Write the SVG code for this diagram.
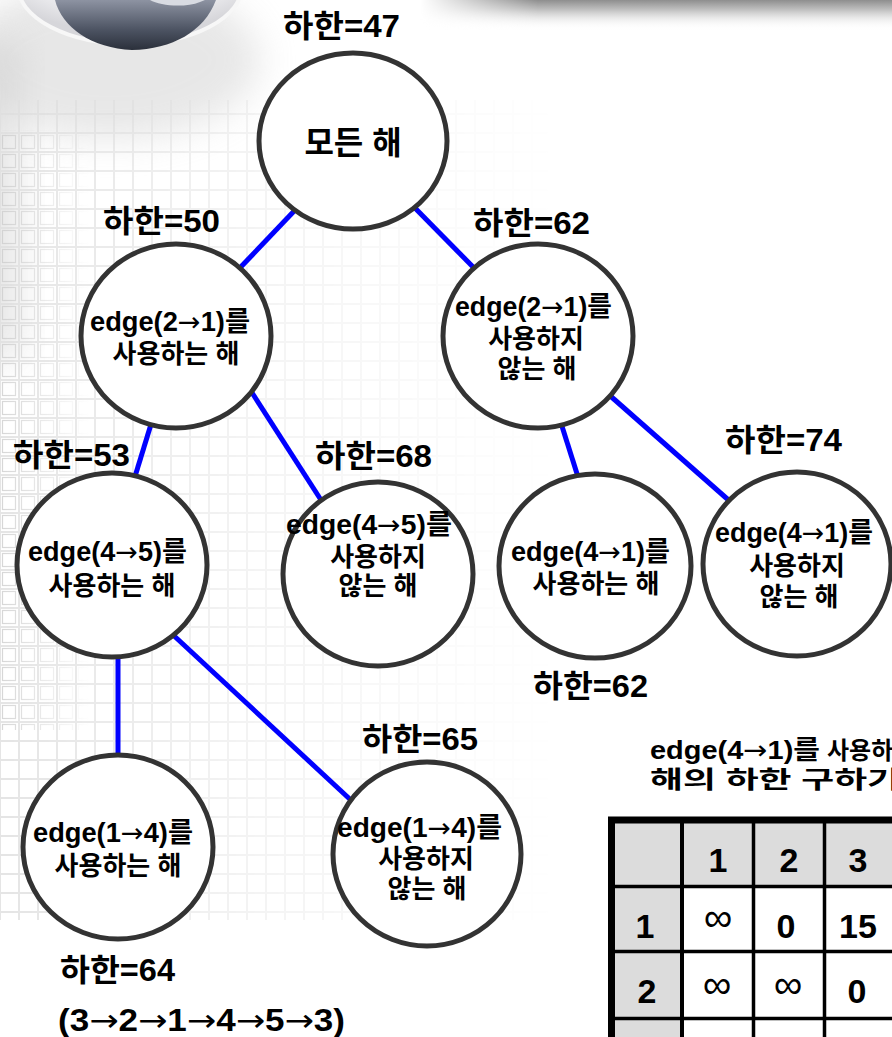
<svg xmlns="http://www.w3.org/2000/svg" width="892" height="1037" viewBox="0 0 892 1037">
  <style>
    .node ellipse { fill: #ffffff; stroke: #333333; stroke-width: 5; }
    .edge { stroke: #0000ff; stroke-width: 5; fill: none; }
    .t { font-family: "Liberation Sans", "Noto Sans CJK KR", sans-serif; font-weight: bold; fill: #000000; }
    .lbl { font-size: 31px; }
    .nt { font-size: 26px; }
    .ne { font-size: 27px; }
    .mid { text-anchor: middle; }
    .ar { font-family: "DejaVu Sans", sans-serif; font-weight: normal; }
    .cell { font-family: "Liberation Sans", sans-serif; font-weight: bold; font-size: 34px; text-anchor: middle; fill: #000000; }
    .inf { font-family: "Liberation Sans", sans-serif; font-weight: normal; font-size: 40px; text-anchor: middle; fill: #000000; }
  </style>
  <defs>
    <pattern id="gridCells" width="19" height="19" patternUnits="userSpaceOnUse">
      <rect x="0.5" y="0.5" width="18" height="18" fill="none" stroke="#dedede" stroke-width="1"/>
    </pattern>
    <pattern id="boxCells" width="19" height="19" patternUnits="userSpaceOnUse">
      <rect x="2.5" y="2.5" width="13" height="13" fill="none" stroke="#cccccc" stroke-width="1.2"/>
    </pattern>
    <linearGradient id="fadeRight" x1="0" y1="0" x2="1" y2="0">
      <stop offset="0" stop-color="#ffffff" stop-opacity="0.8"/>
      <stop offset="0.45" stop-color="#ffffff" stop-opacity="0.35"/>
      <stop offset="1" stop-color="#ffffff" stop-opacity="0"/>
    </linearGradient>
    <linearGradient id="fadeLeftStrip" x1="0" y1="0" x2="1" y2="0">
      <stop offset="0" stop-color="#ffffff" stop-opacity="0.8"/>
      <stop offset="1" stop-color="#ffffff" stop-opacity="0"/>
    </linearGradient>
    <mask id="gridMask">
      <rect x="0" y="100" width="560" height="820" fill="url(#fadeRight)"/>
    </mask>
    <mask id="stripMask">
      <rect x="0" y="130" width="90" height="600" fill="url(#fadeLeftStrip)"/>
    </mask>
    <linearGradient id="barGrad" x1="0" y1="0" x2="0" y2="1">
      <stop offset="0" stop-color="#8e8e8e"/>
      <stop offset="0.35" stop-color="#c4c4c4"/>
      <stop offset="1" stop-color="#ffffff" stop-opacity="0"/>
    </linearGradient>
    <linearGradient id="barFade" x1="0" y1="0" x2="1" y2="0">
      <stop offset="0" stop-color="#ffffff" stop-opacity="0"/>
      <stop offset="0.25" stop-color="#ffffff" stop-opacity="1"/>
      <stop offset="1" stop-color="#ffffff" stop-opacity="1"/>
    </linearGradient>
    <mask id="barMask">
      <rect x="420" y="0" width="472" height="40" fill="url(#barFade)"/>
    </mask>
    <radialGradient id="globeGrad" cx="0.5" cy="0.2" r="0.7">
      <stop offset="0" stop-color="#f6f6f7"/>
      <stop offset="0.8" stop-color="#e8e8eb"/>
      <stop offset="1" stop-color="#d6d6da"/>
    </radialGradient>
    <linearGradient id="landGrad" x1="0" y1="0" x2="0" y2="1">
      <stop offset="0" stop-color="#8d93a2"/>
      <stop offset="0.6" stop-color="#4c5362"/>
      <stop offset="1" stop-color="#2b303b"/>
    </linearGradient>
    <filter id="soft" x="-50%" y="-50%" width="200%" height="200%">
      <feGaussianBlur stdDeviation="18"/>
    </filter>
  </defs>

  <!-- page background -->
  <g id="background">
    <rect x="0" y="0" width="892" height="1037" fill="#ffffff"/>
    <ellipse cx="110" cy="60" rx="150" ry="80" fill="#c4c4c4" opacity="0.4" filter="url(#soft)"/>
    <rect x="-30" y="40" width="50" height="320" fill="#c8c8c8" opacity="0.45" filter="url(#soft)"/>
    <rect x="0" y="100" width="560" height="820" fill="url(#gridCells)" mask="url(#gridMask)"/>
    <rect x="0" y="130" width="90" height="600" fill="url(#boxCells)" mask="url(#stripMask)"/>
    <rect x="420" y="0" width="472" height="30" fill="url(#barGrad)" mask="url(#barMask)"/>
    <!-- globe ornament -->
    <ellipse cx="130" cy="-14" rx="112" ry="58" fill="url(#globeGrad)" stroke="#f7f7f7" stroke-width="4"/>
    <path d="M55,0 C62,28 92,48 132,50 C172,49 204,32 216,0 Z" fill="url(#landGrad)"/>
    <path d="M150,0 C160,6 185,8 200,2 L205,0 Z" fill="#d8dbe2"/>
  </g>

  <!-- branches of the search tree -->
  <g id="connectors">
    <line class="edge" x1="297" y1="208" x2="236" y2="272"/>
    <line class="edge" x1="413" y1="206" x2="478" y2="272"/>
    <line class="edge" x1="152" y1="421" x2="133" y2="483"/>
    <line class="edge" x1="249" y1="388" x2="321" y2="500"/>
    <line class="edge" x1="560" y1="420" x2="579" y2="480"/>
    <line class="edge" x1="607" y1="393" x2="733" y2="504"/>
    <line class="edge" x1="118" y1="651" x2="118" y2="761"/>
    <line class="edge" x1="171" y1="633" x2="354" y2="803"/>
  </g>

  <!-- root -->
  <g id="node-all" class="node">
    <ellipse cx="353" cy="141" rx="94" ry="88"/>
    <text class="t mid" x="353" y="154" font-size="32">모든 해</text>
    <text class="t lbl" x="283" y="37" textLength="117" lengthAdjust="spacingAndGlyphs">하한=47</text>
  </g>

  <g id="node-use-21" class="node">
    <ellipse cx="176" cy="336" rx="95" ry="92"/>
    <text class="t ne" x="90" y="331" textLength="160" lengthAdjust="spacingAndGlyphs">edge(2<tspan class="ar">→</tspan>1)를</text>
    <text class="t nt mid" x="176" y="363">사용하는 해</text>
    <text class="t lbl" x="103" y="232" textLength="117" lengthAdjust="spacingAndGlyphs">하한=50</text>
  </g>

  <g id="node-skip-21" class="node">
    <ellipse cx="538" cy="336" rx="95" ry="92"/>
    <text class="t ne" x="455" y="316" textLength="157" lengthAdjust="spacingAndGlyphs">edge(2<tspan class="ar">→</tspan>1)를</text>
    <text class="t nt mid" x="536" y="348">사용하지</text>
    <text class="t nt mid" x="537" y="378">않는 해</text>
    <text class="t lbl" x="473" y="234" textLength="117" lengthAdjust="spacingAndGlyphs">하한=62</text>
  </g>

  <g id="node-use-45" class="node">
    <ellipse cx="112" cy="565" rx="95" ry="92"/>
    <text class="t ne" x="28" y="561" textLength="159" lengthAdjust="spacingAndGlyphs">edge(4<tspan class="ar">→</tspan>5)를</text>
    <text class="t nt mid" x="112" y="595">사용하는 해</text>
    <text class="t lbl" x="13" y="466" textLength="117" lengthAdjust="spacingAndGlyphs">하한=53</text>
  </g>

  <g id="node-skip-45" class="node">
    <ellipse cx="378" cy="574" rx="95" ry="92"/>
    <text class="t ne" x="286" y="534" textLength="166" lengthAdjust="spacingAndGlyphs">edge(4<tspan class="ar">→</tspan>5)를</text>
    <text class="t nt mid" x="378" y="566">사용하지</text>
    <text class="t nt mid" x="378" y="595">않는 해</text>
    <text class="t lbl" x="315" y="467" textLength="117" lengthAdjust="spacingAndGlyphs">하한=68</text>
  </g>

  <g id="node-use-41" class="node">
    <ellipse cx="595" cy="566" rx="96" ry="92"/>
    <text class="t ne" x="511" y="561" textLength="159" lengthAdjust="spacingAndGlyphs">edge(4<tspan class="ar">→</tspan>1)를</text>
    <text class="t nt mid" x="596" y="593">사용하는 해</text>
    <text class="t lbl" x="533" y="697" textLength="115" lengthAdjust="spacingAndGlyphs">하한=62</text>
  </g>

  <g id="node-skip-41" class="node">
    <ellipse cx="797" cy="564" rx="94" ry="92"/>
    <text class="t ne" x="715" y="542" textLength="158" lengthAdjust="spacingAndGlyphs">edge(4<tspan class="ar">→</tspan>1)를</text>
    <text class="t nt mid" x="797" y="575">사용하지</text>
    <text class="t nt mid" x="799" y="606">않는 해</text>
    <text class="t lbl" x="725" y="451" textLength="117" lengthAdjust="spacingAndGlyphs">하한=74</text>
  </g>

  <g id="node-use-14" class="node">
    <ellipse cx="118" cy="847" rx="95" ry="92"/>
    <text class="t ne" x="33" y="842" textLength="160" lengthAdjust="spacingAndGlyphs">edge(1<tspan class="ar">→</tspan>4)를</text>
    <text class="t nt mid" x="118" y="875">사용하는 해</text>
    <text class="t lbl" x="60" y="981" textLength="115" lengthAdjust="spacingAndGlyphs">하한=64</text>
    <text class="t lbl" x="58" y="1031" textLength="287" lengthAdjust="spacingAndGlyphs">(3<tspan class="ar">→</tspan>2<tspan class="ar">→</tspan>1<tspan class="ar">→</tspan>4<tspan class="ar">→</tspan>5<tspan class="ar">→</tspan>3)</text>
  </g>

  <g id="node-skip-14" class="node">
    <ellipse cx="427" cy="854" rx="94" ry="92"/>
    <text class="t ne" x="337" y="837" textLength="165" lengthAdjust="spacingAndGlyphs">edge(1<tspan class="ar">→</tspan>4)를</text>
    <text class="t nt mid" x="426" y="868">사용하지</text>
    <text class="t nt mid" x="427" y="898">않는 해</text>
    <text class="t lbl" x="362" y="750" textLength="116" lengthAdjust="spacingAndGlyphs">하한=65</text>
  </g>

  <!-- reduced cost matrix for the edge(4→1) branch -->
  <g id="matrix">
    <text class="t" x="650" y="759" font-size="26" textLength="170" lengthAdjust="spacingAndGlyphs">edge(4<tspan class="ar">→</tspan>1)를</text>
    <text class="t" x="827" y="759" font-size="24">사용하는</text>
    <text class="t" x="650" y="788" font-size="24" textLength="250" lengthAdjust="spacingAndGlyphs">해의 하한 구하기</text>

    <rect x="615" y="823" width="290" height="62" fill="#dcdcdc"/>
    <rect x="615" y="823" width="66" height="220" fill="#dcdcdc"/>

    <line x1="611" y1="886.5" x2="900" y2="886.5" stroke="#000" stroke-width="3.5"/>
    <line x1="611" y1="951.5" x2="900" y2="951.5" stroke="#000" stroke-width="3.5"/>
    <line x1="611" y1="1018.5" x2="900" y2="1018.5" stroke="#000" stroke-width="3.5"/>
    <line x1="682" y1="820" x2="682" y2="1040" stroke="#000" stroke-width="4"/>
    <line x1="753.5" y1="820" x2="753.5" y2="1040" stroke="#000" stroke-width="3.5"/>
    <line x1="824.5" y1="820" x2="824.5" y2="1040" stroke="#000" stroke-width="3.5"/>
    <rect x="611.5" y="820" width="300" height="230" fill="none" stroke="#000" stroke-width="7"/>

    <text class="cell" x="718" y="872">1</text>
    <text class="cell" x="789" y="872">2</text>
    <text class="cell" x="858" y="872">3</text>
    <text class="cell" x="645" y="938">1</text>
    <text class="cell" x="647" y="1003">2</text>

    <text class="inf" x="718" y="931">∞</text>
    <text class="cell" x="786" y="938">0</text>
    <text class="cell" x="858" y="938">15</text>

    <text class="inf" x="717" y="998">∞</text>
    <text class="inf" x="788" y="998">∞</text>
    <text class="cell" x="857" y="1003">0</text>
  </g>
</svg>
